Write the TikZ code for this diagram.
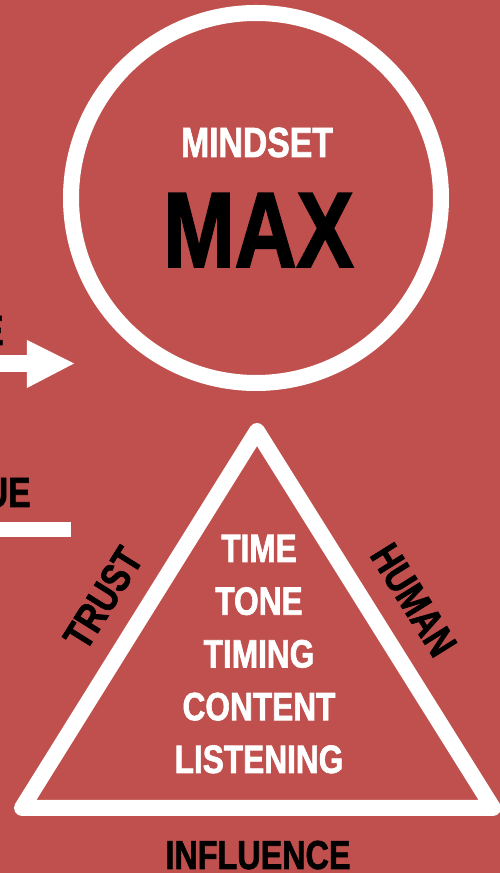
\documentclass[tikz,border=0pt]{standalone}
\usepackage{fontspec}
\newfontfamily\condfont{Liberation Sans}[FakeStretch=0.8, FakeBold=1.6]
\usepackage{tikz}
\usepackage{xcolor}
\definecolor{bgred}{RGB}{192,80,77}

\begin{document}
\begin{tikzpicture}[wline/.style={white, line width=0.32cm}, txt/.style={inner sep=0pt, font=\condfont\bfseries\fontsize{#1}{#1}\selectfont}]
  \fill[bgred] (0,0) rectangle (10,17.46); \clip (0,0) rectangle (10,17.46);
  % circle with the two headings
  \draw[wline] (5.12,13.5) circle (3.7);
  \node[txt=24, white, anchor=base] (mindset) at (5.14,14.32) {MINDSET};
  \node[txt=61, black, anchor=base] (max) at (5.17,12.12) {MAX};
  % left edge: cut words, arrow and bar
  \node[txt=24, anchor=base east] (e) at (0.08,10.56) {E}; \node[txt=24, anchor=base east] (ue) at (0.62,7.32) {UE};
  \fill[white] (-0.1,10.02) rectangle (0.56,10.36); \fill[white] (0.54,10.66) -- (1.48,10.19) -- (0.54,9.70) -- cycle;
  \fill[white] (-0.1,6.72) rectangle (1.42,7.02);
  % triangle
  \coordinate (apex) at (5.14,8.84); \coordinate (bl) at (0.44,1.30); \coordinate (br) at (9.86,1.30);
  \draw[wline, line join=round] (apex) -- (bl) -- (br) -- cycle;
  \node[txt=23.5, rotate=58] (trust) at (2.06,5.50) {TRUST}; \node[txt=23.5, rotate=-58] (human) at (8.27,5.46) {HUMAN};
  \node[txt=22.5, white, anchor=base] (time) at (5.18,6.22) {TIME};
  \node[txt=22.5, white, anchor=base] (tone) at (5.18,5.165) {TONE};
  \node[txt=22.5, white, anchor=base] (timing) at (5.18,4.11) {TIMING};
  \node[txt=22.5, white, anchor=base] (content) at (5.18,3.055) {CONTENT};
  \node[txt=22.5, white, anchor=base] (listening) at (5.18,2.00) {LISTENING};
  \node[txt=23, anchor=base] (influence) at (5.16,0.08) {INFLUENCE};
\end{tikzpicture}
\end{document}
